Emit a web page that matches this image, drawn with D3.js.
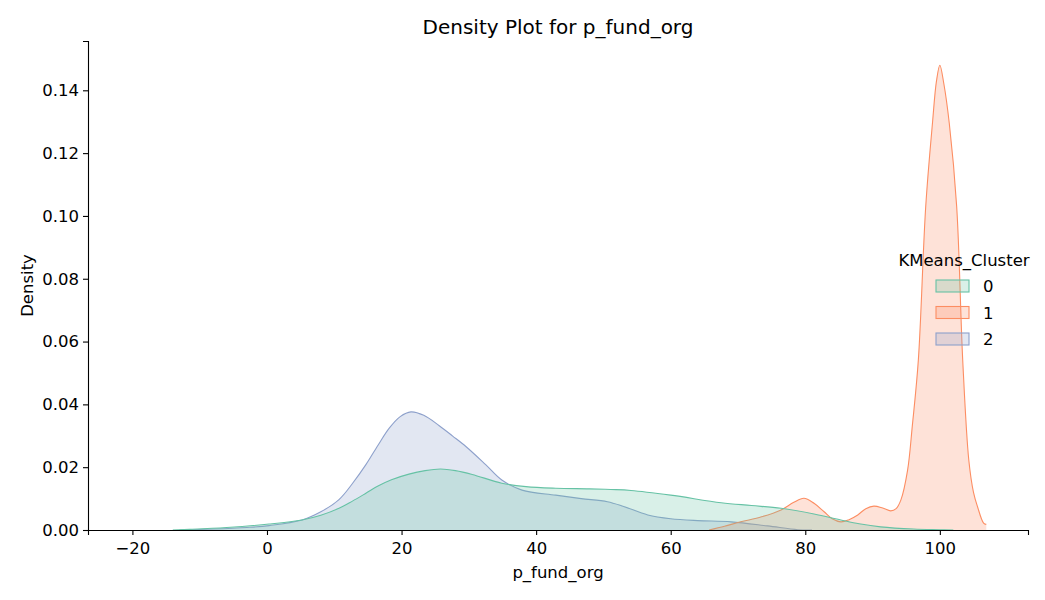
<!DOCTYPE html>
<html>
<head>
<meta charset="utf-8">
<script src="https://cdn.jsdelivr.net/npm/d3@7"></script>
<style>
  body { margin: 0; background: #fff; }
  text { font-family: "DejaVu Sans", sans-serif; fill: #000; }
</style>
</head>
<body>
<svg id="chart" width="1045" height="600"></svg>
<script>
// cluster labels and colours (seaborn Set2)
const clusters = ["0", "1", "2"]
const colors = ["#66c2a5", "#fc8d62", "#8da0cb"]

// density curves: [p_fund_org, density]
const cluster0 = [
  [-14, 0], [-11.5, 0.0002], [-6, 0.0008], [0.3, 0.0019], [5.2, 0.0032],
  [8, 0.0047], [10.7, 0.0069], [12.7, 0.0092], [14.7, 0.0117], [16.5, 0.014],
  [18.5, 0.016], [21.1, 0.0178], [23.5, 0.0189], [25.8, 0.0194], [28, 0.0189],
  [30.5, 0.0177], [34.9, 0.0149], [38.5, 0.0138], [42.9, 0.0133], [47.9, 0.0131],
  [51.1, 0.0129], [54.1, 0.0126], [60, 0.0111], [67.5, 0.0087], [72, 0.0078],
  [76.4, 0.0069], [81.3, 0.0051], [85.3, 0.0032], [88, 0.002], [91.2, 0.001],
  [96.1, 0.0003], [100, 0.0001], [102, 0]
]
const cluster1 = [
  [65.7, 0], [68, 0.0012], [70.4, 0.0026], [73.5, 0.0042], [76.4, 0.0064],
  [78.3, 0.0088], [79.8, 0.0101], [81.3, 0.0085], [82.8, 0.0058], [84, 0.0036],
  [85.3, 0.0026], [86.5, 0.0033], [87.8, 0.0048], [89, 0.0068], [90.2, 0.0076],
  [91.5, 0.007], [92.7, 0.0061], [93.5, 0.0068], [94.2, 0.0095], [95.2, 0.019],
  [95.9, 0.033], [96.8, 0.054], [97.9, 0.103], [98.9, 0.1295], [99.5, 0.143],
  [100, 0.148], [100.6, 0.142], [101.4, 0.1295], [102.5, 0.103], [103.4, 0.054],
  [104.3, 0.0223], [105, 0.012], [105.6, 0.0074], [106.5, 0.0022], [106.9, 0.0018]
]
const cluster2 = [
  [-13, 0], [-8, 0.0003], [-3, 0.0008], [0.3, 0.0014], [5.2, 0.0032],
  [8, 0.0058], [10.7, 0.0097], [12.7, 0.0148], [14.7, 0.0208], [16.5, 0.027],
  [18.2, 0.0325], [19.8, 0.0361], [21.4, 0.0376], [23.3, 0.0365], [25.6, 0.0332],
  [27.6, 0.0299], [29.6, 0.0265], [32.5, 0.0208], [34.9, 0.0159], [37.9, 0.0127],
  [42.9, 0.0111], [46.7, 0.01], [50.6, 0.009], [53, 0.0075], [56.6, 0.0048],
  [60, 0.0036], [64, 0.003], [69, 0.0026], [74.4, 0.0013], [78.9, 0.0001], [81, 0]
]
const series = [cluster0, cluster1, cluster2]

const xTicks = [-20, 0, 20, 40, 60, 80, 100]
const yTicks = [0, 0.02, 0.04, 0.06, 0.08, 0.1, 0.12, 0.14]

const margin = {top: 41, right: 17, bottom: 70, left: 88}
const width = 1045 - margin.left - margin.right
const height = 600 - margin.top - margin.bottom

const svg = d3.select("#chart")
const g = svg.append("g").attr("transform", `translate(${margin.left},${margin.top})`)

const x = d3.scaleLinear().domain([-26.6, 113.1]).range([0, width])
const y = d3.scaleLinear().domain([0, 0.1557]).range([height, 0])

const curve = d3.curveCatmullRom.alpha(0.5)
const area = d3.area()
  .x(d => x(d[0])).y0(y(0)).y1(d => y(d[1]))
  .curve(curve)
const line = d3.line()
  .x(d => x(d[0])).y(d => y(d[1]))
  .curve(curve)

// seaborn draws hue levels in reverse, first level ends on top
for (let i = series.length - 1; i >= 0; i--) {
  g.append("path").datum(series[i])
    .attr("d", area)
    .attr("fill", colors[i]).attr("fill-opacity", 0.25)
  g.append("path").datum(series[i])
    .attr("d", line)
    .attr("fill", "none").attr("stroke", colors[i]).attr("stroke-width", 1.1)
}

// axes
const xAxis = g.append("g").attr("transform", `translate(0,${height})`)
  .call(d3.axisBottom(x).tickValues(xTicks).tickSizeOuter(0).tickSize(5).tickPadding(4).tickFormat(d3.format("d")))
const yAxis = g.append("g")
  .call(d3.axisLeft(y).tickValues(yTicks).tickSizeOuter(0).tickSize(5).tickPadding(4).tickFormat(d3.format(".2f")))

;[xAxis, yAxis].forEach(a => {
  a.select(".domain").attr("stroke", "#000").attr("stroke-width", 1.1)
  a.selectAll(".tick line").attr("stroke", "#000").attr("stroke-width", 1.1)
  a.selectAll(".tick text").attr("font-size", 16.5).attr("font-family", "DejaVu Sans").attr("fill", "#000")
})
xAxis.selectAll(".tick text").attr("dy", "0.9em")

// title and labels
svg.append("text").attr("x", margin.left + width / 2).attr("y", 34)
  .attr("text-anchor", "middle").attr("font-size", 20).text("Density Plot for p_fund_org")
svg.append("text").attr("x", margin.left + width / 2).attr("y", 578)
  .attr("text-anchor", "middle").attr("font-size", 16.5).text("p_fund_org")
svg.append("text").attr("transform", `translate(33,${margin.top + height / 2}) rotate(-90)`)
  .attr("text-anchor", "middle").attr("font-size", 16.5).text("Density")

// legend
const lg = svg.append("g").attr("transform", "translate(936,0)")
lg.append("text").attr("x", 28).attr("y", 266).attr("text-anchor", "middle")
  .attr("font-size", 16.5).text("KMeans_Cluster")
clusters.forEach((c, i) => {
  const yy = 280 + i * 26.5
  lg.append("rect").attr("x", 0).attr("y", yy).attr("width", 33).attr("height", 12)
    .attr("fill", colors[i]).attr("fill-opacity", 0.25)
    .attr("stroke", colors[i]).attr("stroke-width", 1.1)
  lg.append("text").attr("x", 47).attr("y", yy + 12).attr("font-size", 16.5).text(c)
})
</script>
</body>
</html>
